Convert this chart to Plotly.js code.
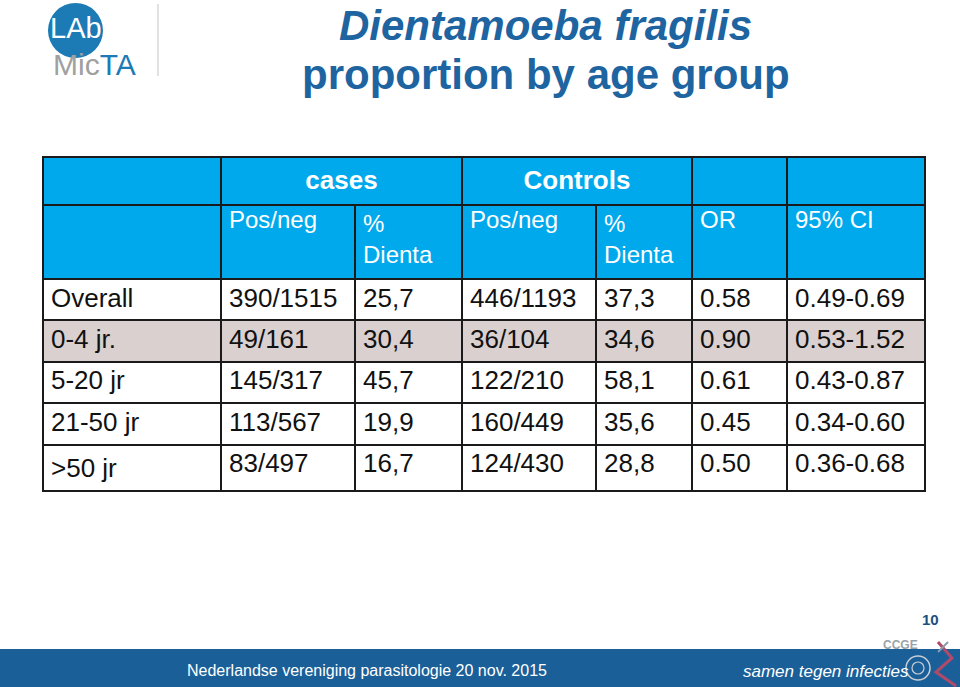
<!DOCTYPE html>
<html>
<head>
<meta charset="utf-8">
<script src="https://cdn.plot.ly/plotly-3.0.1.min.js"></script>
<style>html,body{margin:0;padding:0;background:#fff;}#chart{width:960px;height:687px;}</style>
</head>
<body>
<div id="chart"></div>
<script>
// ---- data ----
var groups = ['Overall', '0-4 jr.', '5-20 jr', '21-50 jr', '>50 jr'];
var casesPosNeg = ['390/1515', '49/161', '145/317', '113/567', '83/497'];
var casesPct = ['25,7', '30,4', '45,7', '19,9', '16,7'];
var controlsPosNeg = ['446/1193', '36/104', '122/210', '160/449', '124/430'];
var controlsPct = ['37,3', '34,6', '58,1', '35,6', '28,8'];
var oddsRatio = ['0.58', '0.90', '0.61', '0.45', '0.50'];
var ci95 = ['0.49-0.69', '0.53-1.52', '0.43-0.87', '0.34-0.60', '0.36-0.68'];
var groupHeaders = ['', 'cases', 'Controls', '', ''];
var subHeaders = ['', 'Pos/neg', '%<br>Dienta', 'Pos/neg', '%<br>Dienta', 'OR', '95% CI'];
var highlightedRow = '0-4 jr.';

// ---- styling ----
var W = 960, H = 687;
function px(x) { return x / W; }
function py(y) { return 1 - y / H; }
var FONT = 'Liberation Sans, Arial, sans-serif';
var HEADER_BLUE = '#00A9EC';
var ROW_GREY = '#D9D0CF';
var LINE = {color: '#1a1a1a', width: 2};

var rowFills = groups.map(function (g) { return g === highlightedRow ? ROW_GREY : '#FFFFFF'; });

var body = {
  type: 'table',
  domain: {x: [px(43), px(925)], y: [py(500), py(202)]},
  columnwidth: [178, 134, 107, 134, 96, 95, 138],
  header: {
    values: subHeaders,
    align: 'left',
    height: 77,
    fill: {color: HEADER_BLUE},
    line: LINE,
    font: {family: FONT, size: 24, color: '#FFFFFF'}
  },
  cells: {
    values: [groups, casesPosNeg, casesPct, controlsPosNeg, controlsPct, oddsRatio, ci95],
    align: 'left',
    height: 41.4,
    fill: {color: [rowFills]},
    line: LINE,
    font: {family: FONT, size: 26, color: '#111111'}
  }
};

var topHeader = {
  type: 'table',
  domain: {x: [px(43), px(925)], y: [py(215), py(157)]},
  columnwidth: [178, 241, 230, 95, 138],
  header: {
    values: groupHeaders.map(function (h) { return h ? '<b>' + h + '</b>' : ''; }),
    align: 'center',
    height: 48,
    fill: {color: HEADER_BLUE},
    line: LINE,
    font: {family: FONT, size: 26, color: '#FFFFFF'}
  },
  cells: {values: [[], [], [], [], []], line: LINE, height: 1}
};

var layout = {
  width: W, height: H,
  margin: {l: 0, r: 0, t: 0, b: 0},
  paper_bgcolor: '#FFFFFF',
  plot_bgcolor: '#FFFFFF',
  showlegend: false,
  shapes: [
    // logo circle
    {type: 'circle', xref: 'paper', yref: 'paper', x0: px(48), x1: px(103), y0: py(58), y1: py(3),
     fillcolor: '#1C7BB5', line: {width: 0}},
    // logo divider
    {type: 'line', xref: 'paper', yref: 'paper', x0: px(158), x1: px(158), y0: py(4), y1: py(76),
     line: {color: '#D8D8D8', width: 1.5}},
    // footer bar
    {type: 'rect', xref: 'paper', yref: 'paper', x0: 0, x1: 1, y0: 0, y1: py(649),
     fillcolor: '#1B5F98', line: {width: 0}},
    // CCGE emblem (approximate)
    {type: 'circle', xref: 'paper', yref: 'paper', x0: px(906), x1: px(930), y0: py(680), y1: py(656),
     line: {color: '#C8CED6', width: 1.5}, fillcolor: 'rgba(0,0,0,0)'},
    {type: 'circle', xref: 'paper', yref: 'paper', x0: px(912), x1: px(924), y0: py(674), y1: py(662),
     line: {color: '#C8CED6', width: 1.2}, fillcolor: 'rgba(0,0,0,0)'},
    {type: 'path', xref: 'paper', yref: 'paper',
     path: 'M ' + px(938) + ' ' + py(642) + ' L ' + px(952) + ' ' + py(658) + ' L ' + px(936) + ' ' + py(672) + ' L ' + px(956) + ' ' + py(686),
     line: {color: '#B04A6A', width: 3}},
    {type: 'path', xref: 'paper', yref: 'paper',
     path: 'M ' + px(948) + ' ' + py(642) + ' L ' + px(938) + ' ' + py(652),
     line: {color: '#8A9AAA', width: 2}}
  ],
  annotations: [
    {xref: 'paper', yref: 'paper', x: px(545), y: py(25), xanchor: 'center', yanchor: 'middle',
     text: '<b><i>Dientamoeba fragilis</i></b>', showarrow: false, borderpad: 0,
     font: {family: FONT, size: 42, color: '#1D64A0'}},
    {xref: 'paper', yref: 'paper', x: px(546), y: py(74), xanchor: 'center', yanchor: 'middle',
     text: '<b>proportion by age group</b>', showarrow: false,
     font: {family: FONT, size: 42, color: '#1D64A0'}},
    {xref: 'paper', yref: 'paper', x: px(76), y: py(28), xanchor: 'center', yanchor: 'middle',
     text: 'LAb', showarrow: false, font: {family: FONT, size: 29, color: '#FFFFFF'}},
    {xref: 'paper', yref: 'paper', x: px(51), y: py(64), xanchor: 'left', yanchor: 'middle',
     text: '<span style="color:#A0A0A0">Mic</span><span style="color:#1C7BB5">TA</span>', showarrow: false,
     font: {family: FONT, size: 30, color: '#A0A0A0'}},
    {xref: 'paper', yref: 'paper', x: px(941), y: py(619), xanchor: 'right', yanchor: 'middle',
     text: '<b>10</b>', showarrow: false, font: {family: FONT, size: 15, color: '#1D4F80'}},
    {xref: 'paper', yref: 'paper', x: px(920), y: py(645), xanchor: 'right', yanchor: 'middle',
     text: '<b>CCGE</b>', showarrow: false, font: {family: FONT, size: 12, color: '#9AA2AA'}},
    {xref: 'paper', yref: 'paper', x: px(367), y: py(670), xanchor: 'center', yanchor: 'middle',
     text: 'Nederlandse vereniging parasitologie 20 nov. 2015', showarrow: false,
     font: {family: FONT, size: 16, color: '#FFFFFF'}},
    {xref: 'paper', yref: 'paper', x: px(911), y: py(671), xanchor: 'right', yanchor: 'middle',
     text: '<i>samen tegen infecties</i>', showarrow: false,
     font: {family: FONT, size: 17, color: '#FFFFFF'}}
  ]
};

Plotly.newPlot('chart', [body, topHeader], layout, {displayModeBar: false, staticPlot: true});
</script>
</body>
</html>
